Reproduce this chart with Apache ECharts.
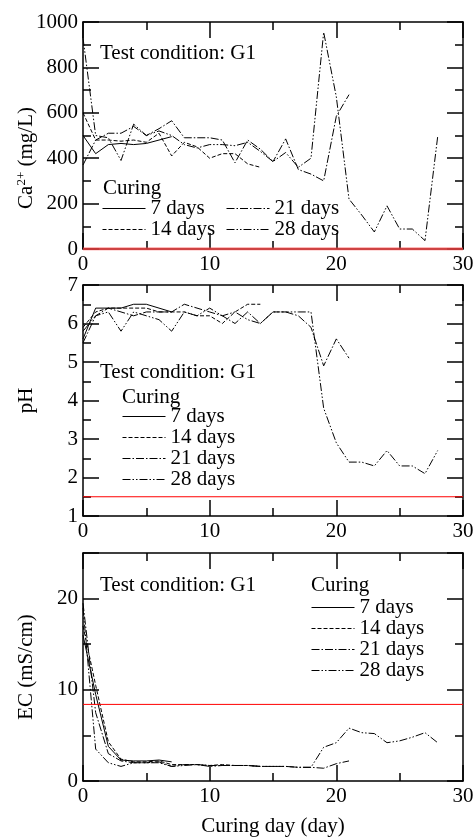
<!DOCTYPE html>
<html><head><meta charset="utf-8">
<script src="https://cdn.jsdelivr.net/npm/echarts@6/dist/echarts.min.js"></script>
<style>html,body{margin:0;padding:0;background:#fff}#c{width:474px;height:839px}</style>
</head><body><div id="c"></div>
<script>
// ---- data ----
const days = [0,1,2,3,4,5,6,7,8,9,10,11,12,13,14,15,16,17,18,19,20,21,22,23,24,25,26,27,28];
const curingNames = ['7 days','14 days','21 days','28 days'];
const xTicks = [0, 10, 20, 30];

const ca7  = [500, 420, 460, 465, 460, 465, 480, 495];
const ca14 = [600, 480, 480, 475, 480, 470, 510, 410, 470, 450, 400, 420, 420, 375, 360];
const ca21 = [370, 480, 510, 510, 540, 500, 530, 565, 490, 490, 490, 480, 380, 480, 440, 385, 485, 350, 330, 300, 585, 680];
const ca28 = [930, 500, 490, 390, 550, 500, 520, 500, 460, 445, 460, 460, 455, 470, 430, 385, 425, 360, 400, 955, 670, 220, 150, 75, 190, 88, 88, 37, 495];

const ph7  = [5.6, 6.4, 6.4, 6.4, 6.5, 6.5, 6.4, 6.3];
const ph14 = [5.9, 6.3, 6.4, 6.4, 6.4, 6.4, 6.3, 6.3, 6.3, 6.2, 6.2, 6.0, 6.3, 6.5, 6.5];
const ph21 = [5.5, 6.2, 6.4, 6.3, 6.2, 6.3, 6.3, 6.3, 6.5, 6.4, 6.3, 6.2, 6.0, 6.3, 6.0, 6.3, 6.3, 6.2, 5.9, 4.9, 5.6, 5.1];
const ph28 = [5.8, 6.2, 6.3, 5.8, 6.3, 6.2, 6.1, 5.8, 6.3, 6.2, 6.4, 6.2, 6.3, 6.1, 6.0, 6.3, 6.3, 6.3, 6.3, 3.8, 2.9, 2.4, 2.4, 2.3, 2.7, 2.3, 2.3, 2.1, 2.7];

const ec7  = [16, 9.5, 3.8, 2.3, 2.2, 2.2, 2.3, 2.1];
const ec14 = [17, 10.5, 4.3, 2.4, 2.1, 2.1, 2.2, 1.8, 1.8, 1.8, 1.7, 1.8, 1.7, 1.7, 1.6];
const ec21 = [19.5, 7.5, 3.0, 2.2, 2.0, 2.0, 2.1, 1.6, 1.8, 1.8, 1.7, 1.7, 1.7, 1.7, 1.6, 1.6, 1.6, 1.5, 1.5, 1.4, 1.9, 2.2];
const ec28 = [19, 3.5, 2.0, 1.6, 2.0, 2.0, 2.0, 1.6, 1.7, 1.8, 1.6, 1.7, 1.7, 1.7, 1.6, 1.6, 1.6, 1.5, 1.5, 3.7, 4.2, 5.8, 5.3, 5.2, 4.2, 4.4, 4.8, 5.3, 4.2];

const caLimit = 0;
const phLimit = 1.5;
const ecLimit = 8.4;

// ---- styling ----
const F = "'Liberation Serif','Times New Roman',serif";
const FS = 21;
const dashTypes = ['solid', [4, 2], [8, 2, 1.5, 2], [8, 2, 1.5, 2, 1.5, 2]];
const grids = [
  {left: 83, top: 22, width: 380, height: 227},
  {left: 83, top: 285, width: 380, height: 231},
  {left: 83, top: 553, width: 380, height: 228}
];
const yRanges = [
  {min: 0, max: 1000, interval: 200},
  {min: 1, max: 7, interval: 1},
  {min: 0, max: 25, interval: 10}
];

const tickCommon = {
  axisLine: {onZero: false, lineStyle: {color: '#000', width: 1.5}},
  axisTick: {inside: true, length: 16, lineStyle: {color: '#000', width: 1.5}},
  minorTick: {show: true, splitNumber: 2, length: 8, lineStyle: {color: '#000', width: 1.5}},
  splitLine: {show: false},
  minorSplitLine: {show: false}
};
const labelStyle = {color: '#000', fontFamily: F, fontSize: FS};
const plain = v => String(v);

const xAxis = [], yAxis = [];
grids.forEach((g, gi) => {
  const xb = Object.assign({gridIndex: gi, type: 'value', min: xTicks[0], max: xTicks[xTicks.length-1], interval: xTicks[1]-xTicks[0], position: 'bottom',
    axisLabel: Object.assign({margin: 5, formatter: plain}, labelStyle)}, tickCommon);
  if (gi === 2) {
    xb.name = 'Curing day (day)';
    xb.nameLocation = 'middle';
    xb.nameGap = 35;
    xb.nameTextStyle = labelStyle;
  }
  xAxis.push(xb);
  xAxis.push(Object.assign({gridIndex: gi, type: 'value', min: xTicks[0], max: xTicks[xTicks.length-1], interval: xTicks[1]-xTicks[0], position: 'top', axisLabel: {show: false}}, tickCommon));
  const r = yRanges[gi];
  const yl = Object.assign({gridIndex: gi, type: 'value', min: r.min, max: r.max, interval: r.interval, position: 'left',
    axisLabel: Object.assign({margin: 5, showMaxLabel: gi !== 2, formatter: plain}, labelStyle)}, tickCommon);
  if (gi === 1) { yl.name = 'pH'; }
  if (gi === 2) { yl.name = 'EC (mS/cm)'; }
  if (gi > 0) { yl.nameLocation = 'middle'; yl.nameGap = 46; yl.nameTextStyle = labelStyle; }
  yAxis.push(yl);
  yAxis.push(Object.assign({gridIndex: gi, type: 'value', min: r.min, max: r.max, interval: r.interval, position: 'right', axisLabel: {show: false}}, tickCommon));
});

const panelData = [[ca7, ca14, ca21, ca28], [ph7, ph14, ph21, ph28], [ec7, ec14, ec21, ec28]];
const limits = [caLimit, phLimit, ecLimit];
const series = [];
panelData.forEach((sets, gi) => {
  sets.forEach((vals, si) => {
    series.push({
      name: curingNames[si], type: 'line', xAxisIndex: gi*2, yAxisIndex: gi*2,
      data: vals.map((v, i) => [days[i], v]),
      symbol: 'none', showSymbol: false,
      lineStyle: {color: '#000', width: 1, type: dashTypes[si]},
      itemStyle: {color: '#000'},
      z: 3
    });
  });
  series.push({
    name: 'limit' + gi, type: 'line', xAxisIndex: gi*2, yAxisIndex: gi*2,
    data: [[xTicks[0], limits[gi]], [xTicks[xTicks.length-1], limits[gi]]],
    symbol: 'none', silent: true, z: 5,
    lineStyle: gi === 0 ? {color: 'rgba(255,70,70,0.75)', width: 3} : {color: '#ff0000', width: 1}
  });
});

const legendBase = {orient: 'vertical', itemWidth: 43, itemHeight: 10, itemGap: 0, padding: 0, selectedMode: false,
  itemStyle: {opacity: 0, borderWidth: 0},
  lineStyle: {opacity: 1, color: '#000', width: 1},
  textStyle: {fontFamily: F, fontSize: FS, color: '#000', lineHeight: 21}};
const legend = [
  Object.assign({data: ['7 days', '14 days'], left: 102, top: 198}, legendBase),
  Object.assign({data: ['21 days', '28 days'], left: 226, top: 198}, legendBase),
  Object.assign({data: curingNames, left: 122, top: 406}, legendBase),
  Object.assign({data: curingNames, left: 311, top: 597}, legendBase)
];

function txt(x, y, t) {
  return {type: 'text', x: x, y: y, silent: true,
    style: {text: t, fontFamily: F, fontSize: FS, fill: '#000', verticalAlign: 'middle'}};
}
const graphic = [
  txt(100, 53, 'Test condition: G1'),
  txt(103, 188, 'Curing'),
  txt(100, 372, 'Test condition: G1'),
  txt(122, 397, 'Curing'),
  txt(100, 585, 'Test condition: G1'),
  txt(311, 585, 'Curing'),
  {type: 'text', x: 26, y: 158, rotation: Math.PI / 2, silent: true,
    style: {text: '{a|Ca}{s|2+}{a| (mg/L)}', fill: '#000', align: 'center', verticalAlign: 'middle',
      rich: {a: {fontFamily: F, fontSize: FS, lineHeight: 22}, s: {fontFamily: F, fontSize: 13, verticalAlign: 'top', lineHeight: 22}}}}
];

const chart = echarts.init(document.getElementById('c'));
chart.setOption({
  animation: false,
  backgroundColor: '#fff',
  grid: grids.map(g => Object.assign({outerBoundsMode: 'none', containLabel: false}, g)),
  xAxis: xAxis, yAxis: yAxis, series: series, legend: legend, graphic: graphic
});
</script></body></html>
